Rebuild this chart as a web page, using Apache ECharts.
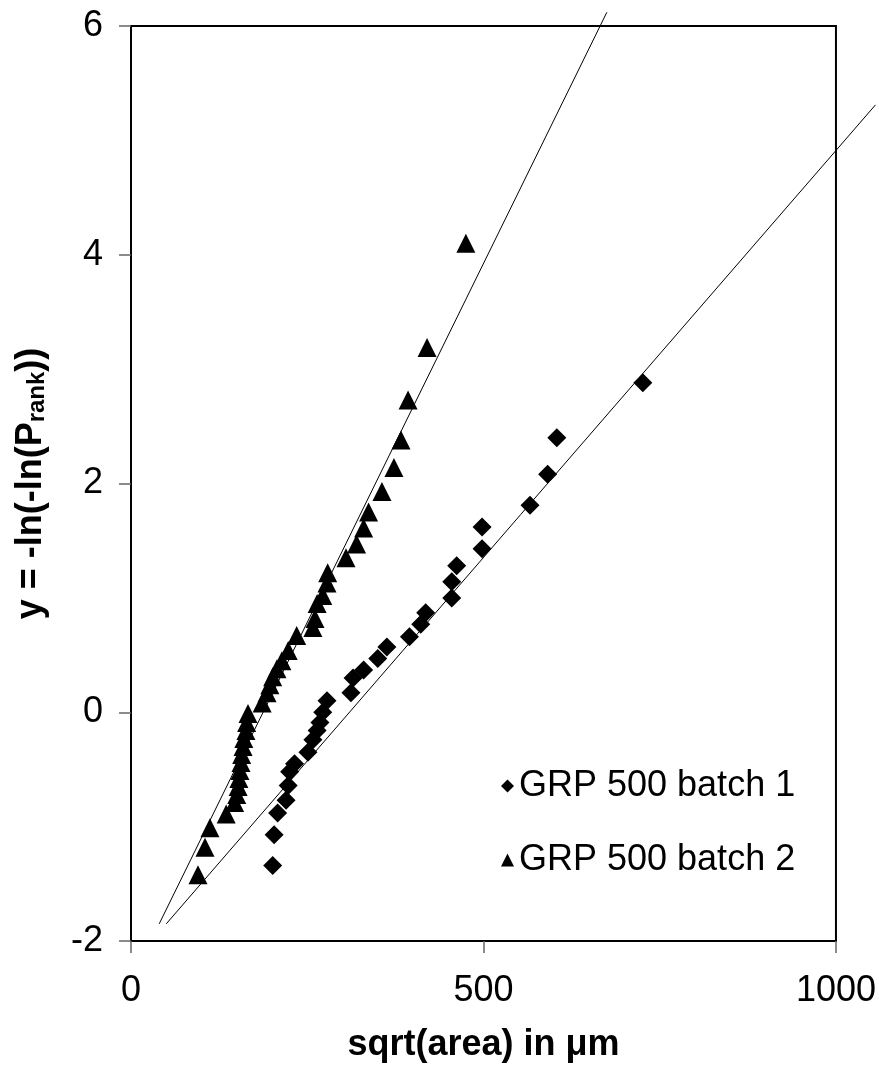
<!DOCTYPE html>
<html>
<head>
<meta charset="utf-8">
<script src="https://cdn.jsdelivr.net/npm/echarts@6/dist/echarts.min.js"></script>
<style>
  html, body { margin: 0; padding: 0; background: #fff; }
</style>
</head>
<body>
<div id="main" style="width: 879px; height: 1078px"></div>
<script>
// batch 1 (diamonds)
const batch1X = [201, 203, 208, 220, 223, 225, 232, 251, 258, 264, 268, 272, 278, 312, 315, 330, 350, 363, 395, 411, 418, 455, 455, 462, 498, 498, 566, 591, 604, 726];
const batch1Y = [-1.34, -1.07, -0.88, -0.77, -0.64, -0.52, -0.45, -0.35, -0.24, -0.16, -0.09, 0.00, 0.10, 0.17, 0.30, 0.37, 0.47, 0.57, 0.66, 0.77, 0.87, 1.00, 1.14, 1.28, 1.43, 1.62, 1.81, 2.08, 2.40, 2.88];
// batch 2 (triangles)
const batch2X = [95, 105, 112, 135, 147, 150, 152, 153, 154.5, 156, 157, 159, 160, 163, 164, 166, 186, 193, 197, 201, 207, 214, 223, 235, 258, 261, 264, 272, 278, 279, 305, 320, 330, 337, 356, 373, 383, 393, 420, 475];
const batch2Y = [-1.42, -1.18, -1.01, -0.89, -0.79, -0.72, -0.65, -0.58, -0.51, -0.44, -0.37, -0.30, -0.23, -0.16, -0.09, -0.01, 0.08, 0.17, 0.24, 0.31, 0.38, 0.45, 0.54, 0.67, 0.74, 0.82, 0.95, 1.02, 1.13, 1.22, 1.35, 1.47, 1.61, 1.75, 1.93, 2.14, 2.38, 2.73, 3.19, 4.10];
// fitted lines (end points)
const fit1 = [[50, -1.85], [1056, 5.31]];
const fit2 = [[40, -1.85], [675, 6.12]];

const xTicks = [0, 500, 1000];
const yTicks = [-2, 0, 2, 4, 6];

const pair = (xs, ys) => xs.map((x, i) => [x, ys[i]]);
const font = 'Liberation Sans, Arial, sans-serif';

const chart = echarts.init(document.getElementById('main'));
chart.setOption({
  animation: false,
  backgroundColor: '#fff',
  textStyle: { fontFamily: font },
  grid: {
    left: 131, right: 43, top: 26, bottom: 137,
    show: true, borderColor: '#000', borderWidth: 2, backgroundColor: 'transparent'
  },
  legend: {
    orient: 'vertical',
    left: 496, top: 763,
    itemGap: 38,
    itemWidth: 13, itemHeight: 13,
    textStyle: { fontSize: 36, color: '#000', fontFamily: font },
    data: [
      { name: 'GRP 500 batch 1', icon: 'diamond' },
      { name: 'GRP 500 batch 2', icon: 'triangle' }
    ]
  },
  xAxis: {
    type: 'value',
    min: xTicks[0], max: xTicks[xTicks.length - 1], interval: 500,
    name: 'sqrt(area) in μm',
    nameLocation: 'middle', nameGap: 86,
    nameTextStyle: { fontSize: 36, fontWeight: 'bold', color: '#000', fontFamily: font },
    axisLine: { onZero: false, lineStyle: { color: '#000', width: 2 } },
    axisTick: { show: true, inside: false, length: 12, lineStyle: { color: '#666', width: 1.5 } },
    axisLabel: { fontSize: 36, color: '#000', margin: 32, fontFamily: font, formatter: v => String(v) },
    splitLine: { show: false }
  },
  yAxis: {
    type: 'value',
    min: yTicks[0], max: yTicks[yTicks.length - 1], interval: 2,
    name: 'y = -ln(-ln(P{sub|rank}))',
    nameLocation: 'middle', nameGap: 82, nameRotate: 90,
    nameTextStyle: {
      fontSize: 36, fontWeight: 'bold', color: '#000', fontFamily: font,
      rich: {
        sub: { fontSize: 24, fontWeight: 'bold', color: '#000', fontFamily: font, verticalAlign: 'bottom', padding: [12, 0, 0, 0] }
      }
    },
    axisLine: { onZero: false, lineStyle: { color: '#000', width: 2 } },
    axisTick: { show: true, inside: false, length: 12, lineStyle: { color: '#666', width: 1.5 } },
    axisLabel: { fontSize: 36, color: '#000', margin: 28, fontFamily: font },
    splitLine: { show: false }
  },
  series: [
    {
      name: 'GRP 500 batch 1',
      type: 'scatter',
      symbol: 'diamond',
      symbolSize: 19,
      itemStyle: { color: '#000', opacity: 1 },
      data: pair(batch1X, batch1Y),
      z: 3
    },
    {
      name: 'GRP 500 batch 2',
      type: 'scatter',
      symbol: 'triangle',
      symbolSize: 19,
      itemStyle: { color: '#000', opacity: 1 },
      data: pair(batch2X, batch2Y),
      z: 3
    },
    {
      name: 'fits',
      type: 'lines',
      coordinateSystem: 'cartesian2d',
      clip: false,
      lineStyle: { color: '#000', width: 1, opacity: 1 },
      data: [{ coords: fit1 }, { coords: fit2 }],
      z: 2
    }
  ]
});
</script>
</body>
</html>
